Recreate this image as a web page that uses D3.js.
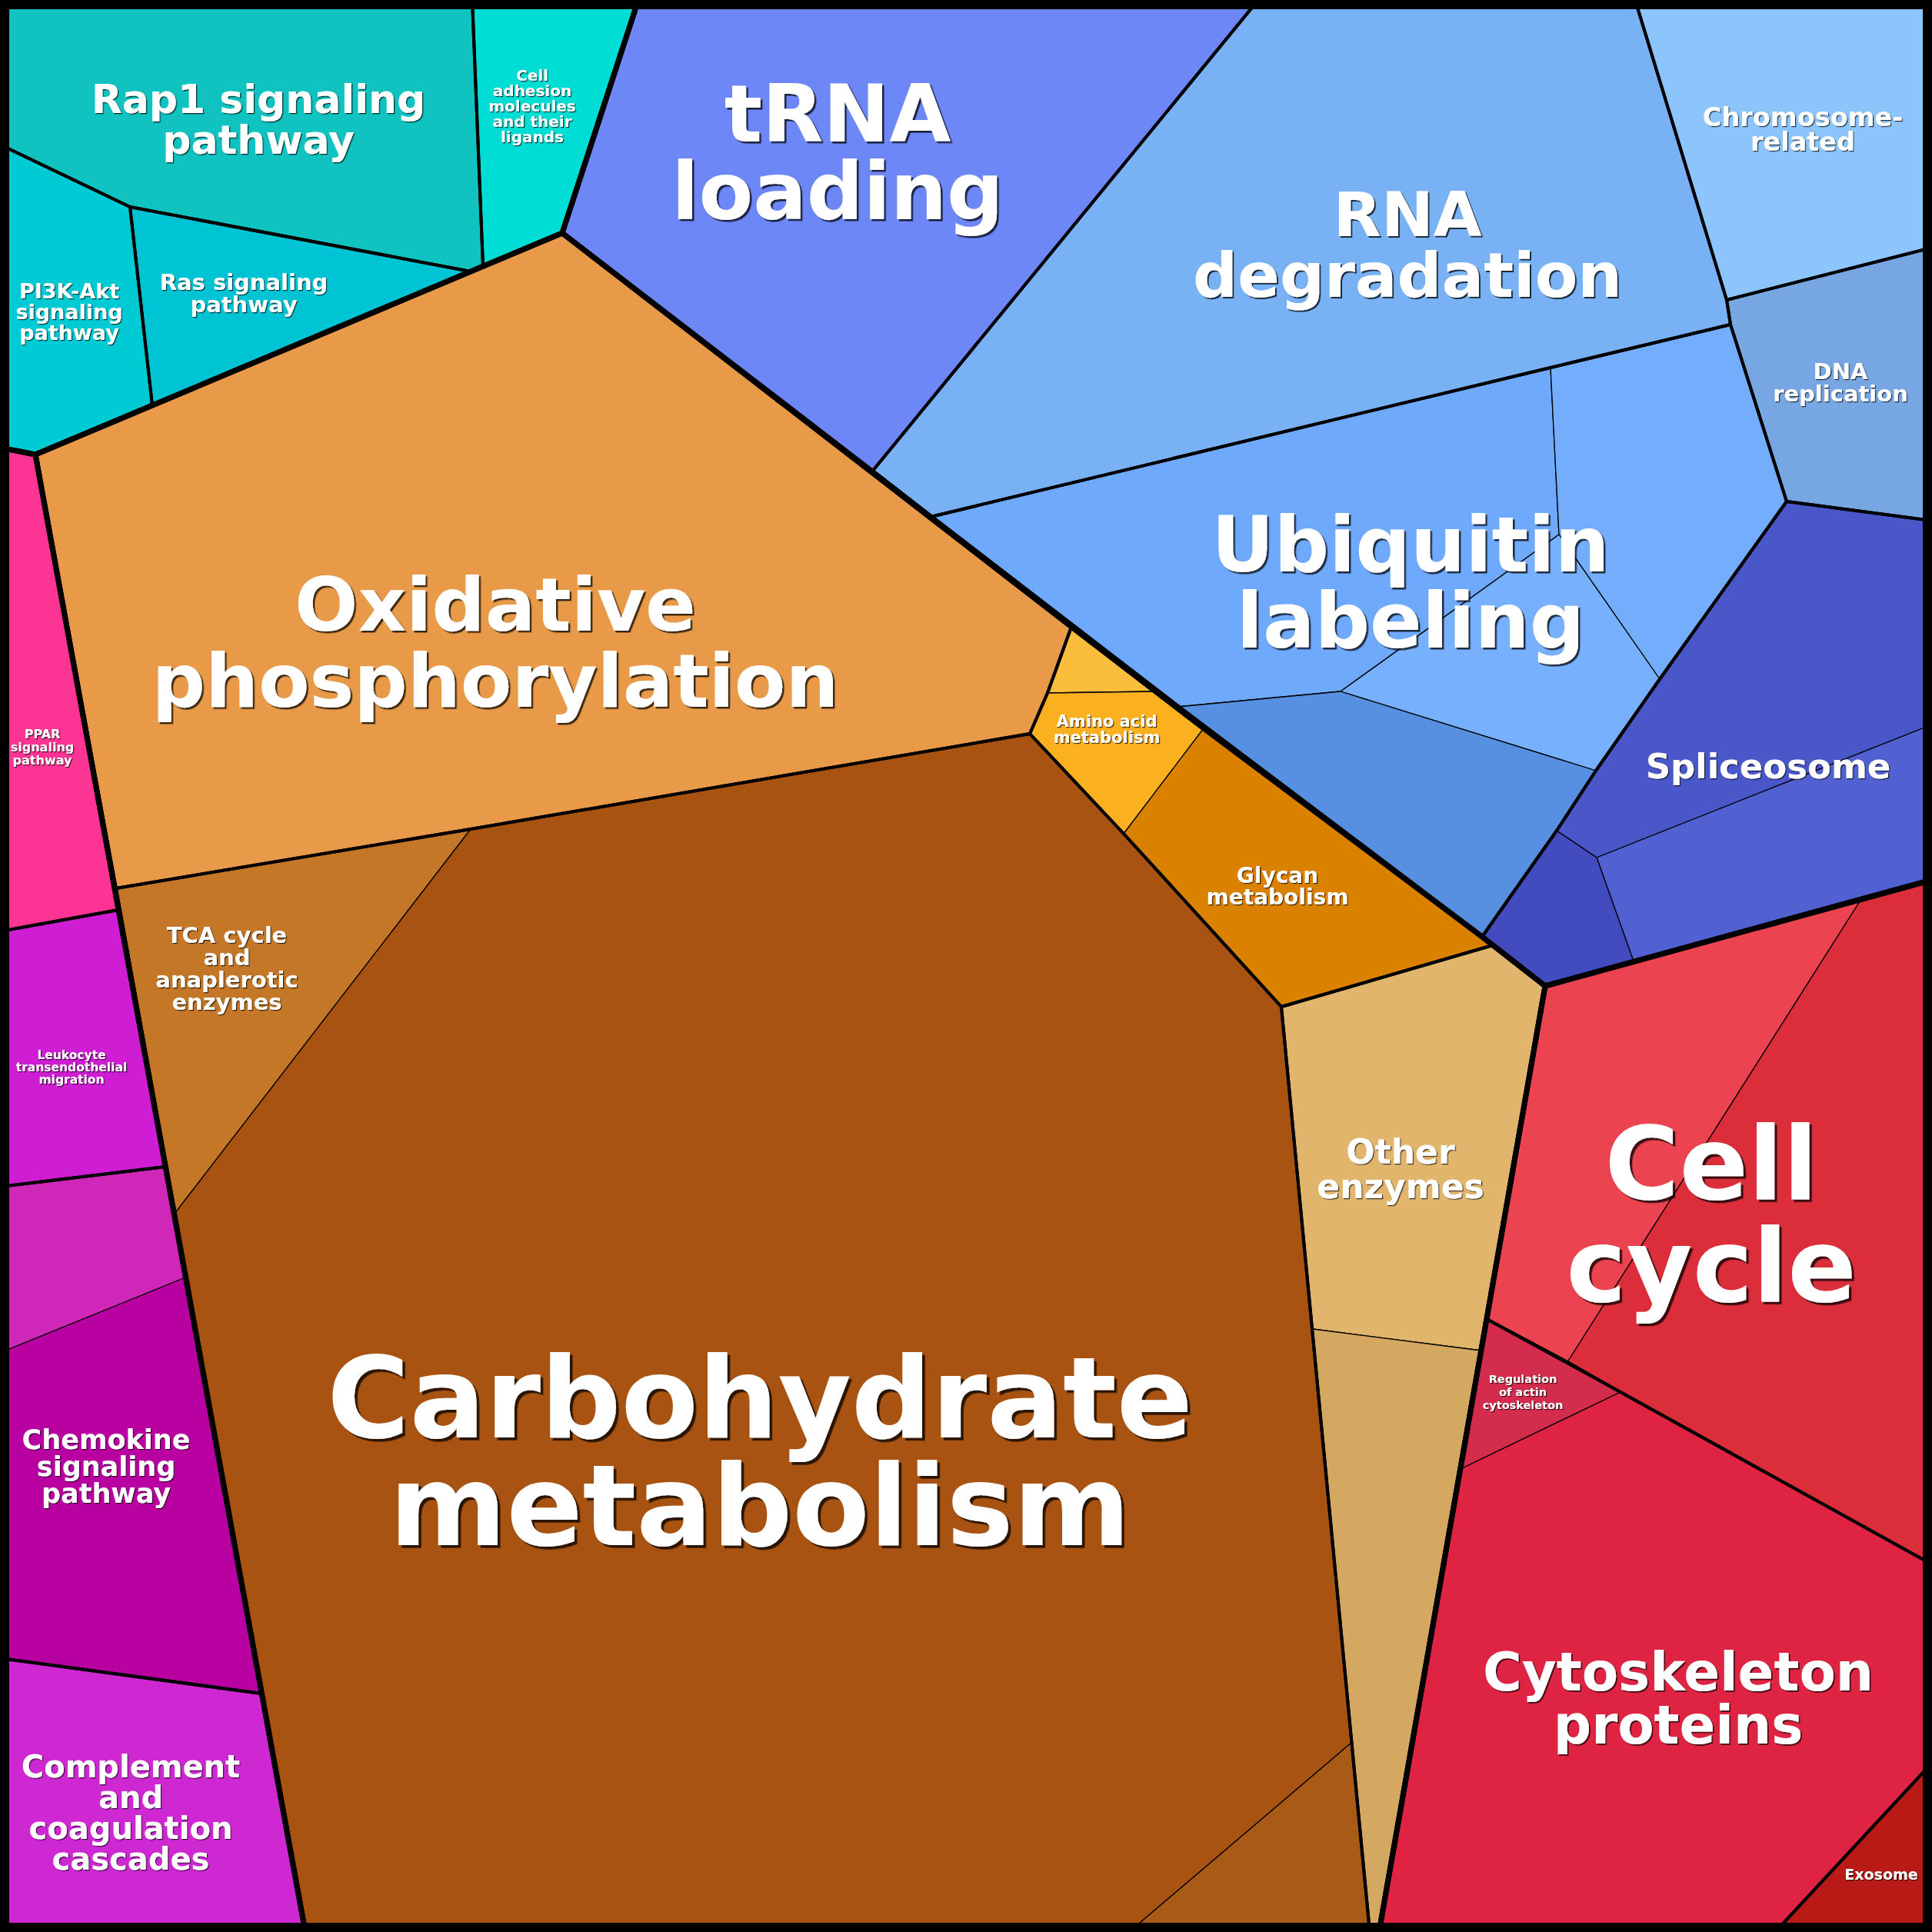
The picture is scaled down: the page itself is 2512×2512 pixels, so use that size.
<!DOCTYPE html>
<meta charset="utf-8">
<style>
  body { margin: 0; background: #fff; }
  .leaf { stroke: #000; stroke-linejoin: round; }
  .outline { fill: none; stroke: #000; stroke-linejoin: round; }
  .label { font-family: "DejaVu Sans", sans-serif; font-weight: bold; text-anchor: middle; fill: #fff; }
</style>
<body>
<script src="https://d3js.org/d3.v7.min.js"></script>
<script>
var width = 2512, height = 2512;

// vertices of the voronoi treemap cells, in the 0..2512 layout space
var vertexTable = [
  ["TL", 0, 0], ["TR", 2512, 0], ["BR", 2512, 2512], ["BL", 0, 2512],
  ["a1", 614, 0], ["a2", 830, 0], ["a3", 1636, 0], ["a4", 2126, 0],
  ["r1", 2512, 322], ["r2", 2512, 677], ["r3", 2512, 942], ["r4", 2512, 1144],
  ["r5", 2512, 2034], ["r6", 2512, 2292],
  ["b1", 2308, 2512], ["b2", 1793, 2512], ["b3", 1781, 2512], ["b4", 1468, 2512], ["b5", 397, 2512],
  ["l1", 0, 188], ["l2", 0, 582], ["l3", 0, 1211], ["l4", 0, 1543], ["l5", 0, 1759], ["l6", 0, 2156],
  ["v1", 169, 269], ["v2", 612, 353], ["v3", 628, 346], ["v4", 731, 303], ["v5", 198, 527],
  ["v6", 46, 591], ["v7", 1134, 613], ["v8", 1210, 672], ["v9", 2245, 390], ["v10", 2250, 422],
  ["v11", 2016, 478], ["v12", 2323, 652], ["v13", 2027, 695], ["v14", 2158, 883], ["v15", 1743, 899],
  ["v16", 1531, 919], ["v17", 2075, 1002], ["v18", 1927, 1218], ["v19", 1941, 1229], ["v20", 2009, 1282],
  ["v21", 2124, 1250], ["v22", 2076, 1115], ["v23", 2024, 1080], ["v24", 2420, 1169], ["v25", 1933, 1715],
  ["v26", 2038, 1771], ["v27", 2107, 1810], ["v28", 1899, 1910], ["v29", 1926, 1756], ["v30", 1707, 1728],
  ["v31", 1666, 1309], ["v32", 1757, 2266], ["v33", 1461, 1084], ["v34", 1339, 954], ["v35", 1362, 901],
  ["v36", 1393, 815], ["v37", 1503, 899], ["v38", 1565, 947], ["v39", 612, 1078], ["v40", 151, 1155],
  ["v41", 227, 1578], ["v42", 154, 1183], ["v43", 215, 1517], ["v44", 241, 1661], ["v45", 340, 2202]
];

// top level categories
var groupNames = ["Environmental information", "Genetic information", "Metabolism", "Cellular processes", "Organismal systems"];
var groupRings = [
  ["TL", "a2", "v4", "v6", "l2"],
  ["a2", "TR", "r4", "v20", "v18", "v16", "v8", "v7", "v4"],
  ["v6", "v4", "v36", "v38", "v18", "v20", "b2", "b5"],
  ["v20", "r4", "BR", "b2"],
  ["l2", "v6", "b5", "BL"]
];

// second level categories holding more than one leaf
var subgroupNames = ["Ubiquitin", "Spliceosome", "Carbohydrate", "Amino acid", "Other enzymes", "Chemokine", "Cell cycle", "Cytoskeleton"];
var subgroupRings = [
  ["v8", "v11", "v10", "v12", "v14", "v17", "v23", "v18", "v16"],
  ["v12", "r2", "r3", "r4", "v21", "v20", "v18", "v23", "v17", "v14"],
  ["v40", "v39", "v34", "v33", "v31", "b3", "b5", "v41"],
  ["v36", "v37", "v38", "v18", "v19", "v31", "v33", "v34", "v35"],
  ["v31", "v19", "v20", "b2", "b3"],
  ["l4", "v43", "v44", "v45", "l6"],
  ["v20", "r4", "r5", "v27", "v26", "v25"],
  ["v25", "v27", "r5", "r6", "b1", "b2"]
];

// leaf cells
var leafNames = [
  "Rap1 signaling pathway", "Cell adhesion molecules", "PI3K-Akt signaling pathway", "Ras signaling pathway",
  "tRNA loading", "RNA degradation", "Chromosome-related", "DNA replication",
  "Ubiquitin 1", "Ubiquitin 2", "Ubiquitin 3", "Ubiquitin 4",
  "Spliceosome 1", "Spliceosome 2", "Spliceosome 3",
  "Oxidative phosphorylation", "Amino acid 1", "Amino acid metabolism", "Glycan metabolism",
  "TCA cycle", "Carbohydrate metabolism", "Carbohydrate 2", "Other enzymes", "Other enzymes 2",
  "Cell cycle 1", "Cell cycle 2", "Regulation of actin cytoskeleton", "Cytoskeleton proteins", "Exosome",
  "PPAR signaling pathway", "Leukocyte transendothelial migration", "Chemokine 1", "Chemokine signaling pathway",
  "Complement and coagulation cascades"
];
var leafSubgroup = [
  null, null, null, null, null, null, null, null,
  "Ubiquitin", "Ubiquitin", "Ubiquitin", "Ubiquitin",
  "Spliceosome", "Spliceosome", "Spliceosome",
  null, "Amino acid", "Amino acid", "Amino acid",
  "Carbohydrate", "Carbohydrate", "Carbohydrate", "Other enzymes", "Other enzymes",
  "Cell cycle", "Cell cycle", "Cytoskeleton", "Cytoskeleton", null,
  null, null, "Chemokine", "Chemokine", null
];
var leafRings = [
  ["TL", "a1", "v3", "v2", "v1", "l1"], ["a1", "a2", "v4", "v3"], ["l1", "v1", "v5", "v6", "l2"], ["v1", "v2", "v5"],
  ["a2", "a3", "v7", "v4"], ["a3", "a4", "v9", "v10", "v11", "v8", "v7"], ["a4", "TR", "r1", "v9"], ["v9", "r1", "r2", "v12", "v10"],
  ["v8", "v11", "v13", "v15", "v16"], ["v11", "v10", "v12", "v14", "v13"], ["v13", "v14", "v17", "v15"], ["v16", "v15", "v17", "v23", "v18"],
  ["v12", "r2", "r3", "v22", "v23", "v17", "v14"], ["r3", "r4", "v21", "v22"], ["v23", "v22", "v21", "v20", "v18"],
  ["v6", "v4", "v36", "v35", "v34", "v39", "v40"], ["v36", "v37", "v35"], ["v35", "v37", "v38", "v33", "v34"], ["v38", "v18", "v19", "v31", "v33"],
  ["v40", "v39", "v41"], ["v39", "v34", "v33", "v31", "v32", "b4", "b5", "v41"], ["v32", "b3", "b4"],
  ["v31", "v19", "v20", "v29", "v30"], ["v30", "v29", "b2", "b3"],
  ["v20", "v24", "v26", "v25"], ["v24", "r4", "r5", "v27", "v26"], ["v25", "v26", "v27", "v28"],
  ["v28", "v27", "r5", "r6", "b1", "b2"], ["r6", "BR", "b1"],
  ["l2", "v6", "v42", "l3"], ["l3", "v42", "v43", "l4"], ["l4", "v43", "v44", "l5"], ["l5", "v44", "v45", "l6"],
  ["l6", "v45", "b5", "BL"]
];
var leafColors = [
  "#10c3c0", "#00ddd4", "#00cbd4", "#00c3d4",
  "#6d87f6", "#78b2f4", "#8cc5fc", "#77a7e3",
  "#6fa9fc", "#74adfc", "#77b0fc", "#5790e0",
  "#4a57c9", "#5161d1", "#434cbe",
  "#e89a48", "#fbbe3c", "#fbb020", "#db8100",
  "#c47726", "#a85312", "#aa5a17", "#e2b56d", "#d4a861",
  "#eb4450", "#dc2e3a", "#d42c4d", "#df2443", "#ba1a15",
  "#fc3594", "#ce1dd2", "#cf27b8", "#b900a1", "#ce28d2"
];

// labels: lines, font size, line step and the site they sit on
var labelLines = [
  ["Rap1 signaling", "pathway"], ["Cell", "adhesion", "molecules", "and their", "ligands"],
  ["PI3K-Akt", "signaling", "pathway"], ["Ras signaling", "pathway"],
  ["tRNA", "loading"], ["RNA", "degradation"], ["Chromosome-", "related"], ["DNA", "replication"],
  ["Ubiquitin", "labeling"], ["Spliceosome"],
  ["Oxidative", "phosphorylation"], ["Amino acid", "metabolism"], ["Glycan", "metabolism"],
  ["TCA cycle", "and", "anaplerotic", "enzymes"], ["Carbohydrate", "metabolism"], ["Other", "enzymes"],
  ["Cell", "cycle"], ["Regulation", "of actin", "cytoskeleton"], ["Cytoskeleton", "proteins"], ["Exosome"],
  ["PPAR", "signaling", "pathway"], ["Leukocyte", "transendothelial", "migration"],
  ["Chemokine", "signaling", "pathway"], ["Complement", "and", "coagulation", "cascades"]
];
var labelSizes = [52, 20, 27, 29, 103, 81, 33.5, 29, 100, 45, 97, 21, 28, 29, 146, 44, 132, 14.5, 69, 19, 16, 15.5, 35, 40];
var labelSteps = [53, 20, 27, 29, 101, 79, 32, 29, 99, 45, 99, 21, 28, 29, 140, 45, 133, 17, 69, 19, 17, 16, 35, 40];
var labelSites = [
  [336, 155], [692, 138], [90, 405], [317, 381],
  [1089, 197], [1830, 317], [2344, 168], [2393, 497],
  [1834, 756], [2299, 996],
  [644, 835], [1439, 948], [1661, 1152],
  [295, 1259], [988, 1886], [1821, 1520],
  [2225, 1578], [1980, 1810], [2182, 2208], [2446, 2437],
  [55, 971], [93, 1387], [138, 1906], [170, 2357]
];

var lineWidths = { leaf: 1.3, subgroup: 4, group: 7, frame: 24 };

var pt = new Map(vertexTable.map(function (d) { return [d[0], [d[1], d[2]]]; }));

var x = d3.scaleLinear().domain([0, 2512]).range([0, width]);
var y = d3.scaleLinear().domain([0, 2512]).range([0, height]);

var ringPath = d3.line()
    .x(function (d) { return x(d[0]); })
    .y(function (d) { return y(d[1]); })
    .curve(d3.curveLinearClosed);

function pts(ring) { return ring.map(function (id) { return pt.get(id); }); }

var svg = d3.select("body").append("svg")
    .attr("width", width)
    .attr("height", height)
    .style("display", "block");

var defs = svg.append("defs");

// leaves
svg.append("g")
  .selectAll("path")
    .data(leafNames)
  .enter().append("path")
    .attr("class", "leaf")
    .attr("d", function (d, i) { return ringPath(pts(leafRings[i])); })
    .style("fill", function (d, i) { return leafColors[i]; })
    .style("stroke-width", lineWidths.leaf);

// second level outlines: leaves on their own act as their own subgroup
var subRings = subgroupRings.slice();
leafSubgroup.forEach(function (s, i) { if (s === null) subRings.push(leafRings[i]); });

svg.append("g")
  .selectAll("path")
    .data(subRings)
  .enter().append("path")
    .attr("class", "outline")
    .attr("d", function (d) { return ringPath(pts(d)); })
    .style("stroke-width", lineWidths.subgroup);

// top level outlines
svg.append("g")
  .selectAll("path")
    .data(groupNames)
  .enter().append("path")
    .attr("class", "outline")
    .attr("d", function (d, i) { return ringPath(pts(groupRings[i])); })
    .style("stroke-width", lineWidths.group);

svg.append("rect")
    .attr("x", x(0)).attr("y", y(0))
    .attr("width", x(2512) - x(0)).attr("height", y(2512) - y(0))
    .style("fill", "none")
    .style("stroke", "#000")
    .style("stroke-width", lineWidths.frame);

// labels, each with a small dark drop shadow
var labels = svg.append("g");
labelLines.forEach(function (lines, i) {
  var fs = labelSizes[i], step = labelSteps[i];
  var cx = x(labelSites[i][0]), cy = y(labelSites[i][1]);
  var n = lines.length, off = Math.max(1.2, fs * 0.025);

  defs.append("filter")
      .attr("id", "shadow" + i)
      .attr("x", "-5%").attr("y", "-5%")
      .attr("width", "110%").attr("height", "110%")
    .append("feDropShadow")
      .attr("dx", off).attr("dy", off)
      .attr("stdDeviation", 0)
      .attr("flood-color", "#000")
      .attr("flood-opacity", 0.75);

  var t = labels.append("text")
      .attr("class", "label")
      .attr("filter", "url(#shadow" + i + ")")
      .style("font-size", fs + "px");
  lines.forEach(function (ln, j) {
    t.append("tspan")
        .attr("x", cx)
        .attr("y", cy + (j - (n - 1) / 2) * step + 0.36 * fs)
        .text(ln);
  });
});
</script>
</body>
</html>
